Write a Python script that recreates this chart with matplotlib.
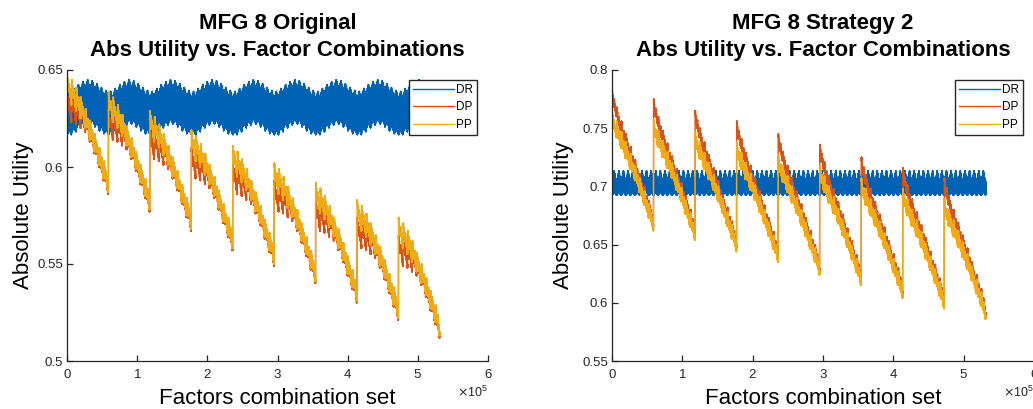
import numpy as np
import matplotlib
matplotlib.use('Agg')
import matplotlib.pyplot as plt

plt.rcParams['font.family'] = ['Liberation Sans', 'DejaVu Sans']

# 3^12 factor combinations, drawn every 81st one -> 9^4 points
n_comb = 531441
step = 81

# ---- MFG 8 Original ----
# PP peak in each of the 9 big blocks
orig_seg_top = [0.646, 0.637, 0.627, 0.617, 0.609, 0.600, 0.590, 0.581, 0.572]
# offset of the 9 small teeth inside a block
orig_sub = [0.0, -0.003, -0.007, -0.012, -0.018, -0.024, -0.031, -0.038, -0.045]
# bolt shape inside one small tooth
orig_fine = [0.0, -0.0025, -0.005, -0.0075, -0.005, -0.0075, -0.010, -0.012, -0.014]
# stroke thickness of the teeth
orig_thick = [0.0, 0.002, 0.0, 0.002, 0.0, 0.002, 0.0, 0.002, 0.0]
# DP minus PP per small tooth
orig_dp_shift = [-0.009, -0.007, -0.005, -0.002, -0.001, -0.001, -0.001, -0.001, -0.001]
# DR band: slow hump per block, lower / upper edge per tooth
orig_dr_hump = [0.0, 0.0015, 0.0035, 0.005, 0.006, 0.0055, 0.004, 0.002, 0.0005]
orig_dr_low = [0.6166, 0.6172, 0.6180, 0.6188, 0.6196, 0.6190, 0.6180, 0.6172, 0.6166]
orig_dr_high = [0.6355, 0.6362, 0.6370, 0.6378, 0.6390, 0.6380, 0.6368, 0.6360, 0.6355]

# ---- MFG 8 Strategy 2 ----
str2_seg_top = [0.762, 0.754, 0.744, 0.735, 0.724, 0.715, 0.704, 0.695, 0.686]
str2_sub = [0.0, -0.009, -0.018, -0.027, -0.037, -0.047, -0.058, -0.069, -0.080]
str2_fine = [0.0, -0.004, -0.008, -0.012, -0.008, -0.012, -0.015, -0.018, -0.020]
str2_thick = [0.0, 0.003, 0.0, 0.003, 0.0, 0.003, 0.0, 0.003, 0.0]
str2_dp_shift = [0.018, 0.012, 0.009, 0.007, 0.006, 0.005, 0.004, 0.004, 0.003]
str2_dr_hump = [0.0, 0.0, 0.0, 0.0, 0.0, 0.0, 0.0, 0.0, 0.0]
str2_dr_low = [0.6925, 0.6930, 0.6940, 0.6950, 0.6960, 0.6950, 0.6940, 0.6930, 0.6925]
str2_dr_high = [0.7050, 0.7070, 0.7090, 0.7110, 0.7135, 0.7110, 0.7080, 0.7060, 0.7050]

# where inside the DR band each fine sample sits (0 = lower edge, 1 = upper edge)
dr_mix = [0.05, 1.0, 0.0, 0.95, 0.1, 1.0, 0.0, 0.9, 0.05]

labels = ['DR', 'DP', 'PP']
colors = ['#0062b4', '#d95319', '#f0ab14']

idx = np.arange(9 ** 4)
x = idx * step
ia = idx // 729
ib = (idx // 81) % 9
ic = (idx // 9) % 9
idd = idx % 9


def build(seg_top, sub, fine, thick, dp_shift, hump, low, high):
    pp = (np.array(seg_top)[ia] + np.array(sub)[ib] + np.array(fine)[ic]
          + np.array(thick)[idd])
    dp = pp + np.array(dp_shift)[ib]
    lo = np.array(low)[ic]
    hi = np.array(high)[ic]
    dr = np.array(hump)[ib] + lo + np.array(dr_mix)[idd] * (hi - lo)
    return dr, dp, pp


panels = [
    ("MFG 8 Original\nAbs Utility vs. Factor Combinations",
     build(orig_seg_top, orig_sub, orig_fine, orig_thick, orig_dp_shift,
           orig_dr_hump, orig_dr_low, orig_dr_high),
     (0.5, 0.65), [0.5, 0.55, 0.6, 0.65], ['0.5', '0.55', '0.6', '0.65'],
     [67, 421], -0.078),
    ("MFG 8 Strategy 2\nAbs Utility vs. Factor Combinations",
     build(str2_seg_top, str2_sub, str2_fine, str2_thick, str2_dp_shift,
           str2_dr_hump, str2_dr_low, str2_dr_high),
     (0.55, 0.8), [0.55, 0.6, 0.65, 0.7, 0.75, 0.8],
     ['0.55', '0.6', '0.65', '0.7', '0.75', '0.8'],
     [612, 422], -0.09),
]

W, H = 1033, 409
fig = plt.figure(figsize=(W / 100, H / 100), dpi=100)
axcol = '#262626'

for title, series, ylim, yt, ytl, (px, pw), ylab_x in panels:
    ax = fig.add_axes([px / W, 48 / H, pw / W, 291 / H])
    for ys, lab, col in zip(series, labels, colors):
        ax.plot(x, ys, color=col, lw=1.0, label=lab)
    ax.set_xlim(0, 6e5)
    ax.set_ylim(*ylim)
    ax.set_xticks(np.arange(0, 7) * 1e5)
    ax.set_yticks(yt)
    ax.set_yticklabels(ytl)
    ax.ticklabel_format(style='sci', axis='x', scilimits=(0, 0), useMathText=True)
    ax.xaxis.get_offset_text().set_fontsize(9)
    ax.xaxis.get_offset_text().set_color(axcol)
    for s in ['top', 'right']:
        ax.spines[s].set_visible(False)
    for s in ['left', 'bottom']:
        ax.spines[s].set_color(axcol)
        ax.spines[s].set_linewidth(0.9)
    ax.tick_params(direction='in', length=4, width=0.9, colors=axcol,
                   labelsize=9.5)
    ax.tick_params(axis='x', pad=5)
    ax.tick_params(axis='y', pad=3)
    ax.set_title(title, fontsize=16, fontweight='bold', linespacing=1.4, pad=10)
    ax.set_ylabel('Absolute Utility', fontsize=16)
    ax.yaxis.set_label_coords(ylab_x, 0.5)
    ax.set_xlabel('Factors combination set', fontsize=16)
    ax.xaxis.set_label_coords(0.5, -0.093)
    leg = ax.legend(loc='upper right', bbox_to_anchor=(1 - 11 / pw, 1 - 10 / 291),
                    borderaxespad=0, fontsize=8.5, handlelength=3.4,
                    handletextpad=0.2, labelspacing=0.45, borderpad=0.35,
                    fancybox=False, framealpha=1, edgecolor=axcol)
    leg.get_frame().set_linewidth(1.0)

fig.savefig('out.png', dpi=100)
